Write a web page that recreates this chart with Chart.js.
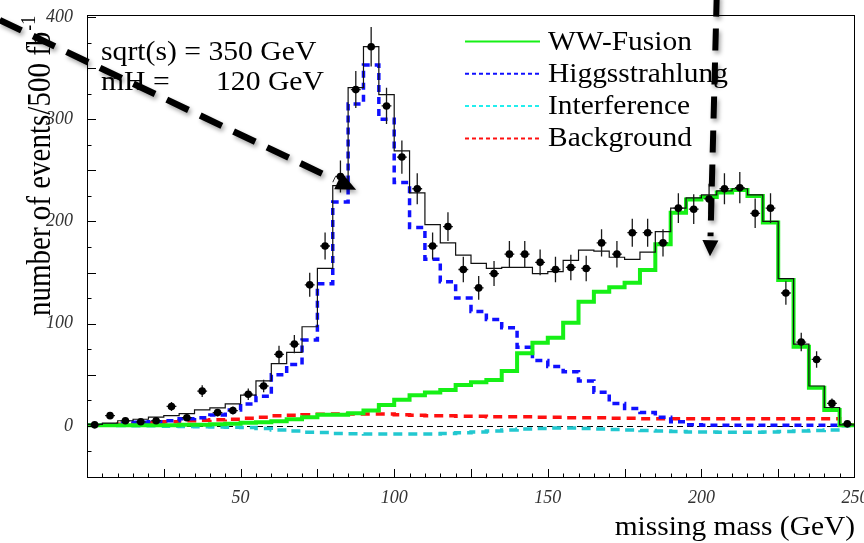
<!DOCTYPE html>
<html>
<head>
<meta charset="utf-8">
<script src="https://cdn.jsdelivr.net/npm/chart.js@4.4.1/dist/chart.umd.min.js"></script>
<style>
  html, body { margin: 0; padding: 0; background: #fff; }
  #wrap { width: 864px; height: 543px; }
</style>
</head>
<body>
<div id="wrap"><canvas id="chart" width="864" height="543"></canvas></div>
<script>
// 5 GeV bins of missing mass
const binWidth = 5;
const binCenters = [
  2.5, 7.5, 12.5, 17.5, 22.5, 27.5, 32.5, 37.5, 42.5, 47.5,
  52.5, 57.5, 62.5, 67.5, 72.5, 77.5, 82.5, 87.5, 92.5, 97.5,
  102.5, 107.5, 112.5, 117.5, 122.5, 127.5, 132.5, 137.5, 142.5, 147.5,
  152.5, 157.5, 162.5, 167.5, 172.5, 177.5, 182.5, 187.5, 192.5, 197.5,
  202.5, 207.5, 212.5, 217.5, 222.5, 227.5, 232.5, 237.5, 242.5, 247.5
];

// simulated data points and their errors
const observed = [
  1, 10, 5, 4, 5, 19, 8, 34, 13, 15,
  31, 39, 70, 80, 138, 176, 244, 329, 371, 313,
  263, 232, 176, 195, 153, 135, 149, 168, 168, 160,
  153, 155, 154, 179, 168, 189, 189, 179, 213, 212,
  222, 232, 233, 208, 213, 130, 82, 65, 22, 2
];
const observedErr = [
  1, 3.2, 2.2, 2, 2.2, 4.4, 2.8, 5.8, 3.6, 3.9,
  5.6, 6.2, 8.4, 8.9, 11.7, 13.3, 15.6, 18.1, 19.3, 17.7,
  16.2, 15.2, 13.3, 14, 12.4, 11.6, 12.2, 13, 13, 12.6,
  12.4, 12.4, 12.4, 13.4, 13, 13.7, 13.7, 13.4, 14.6, 14.6,
  14.9, 15.2, 15.3, 14.4, 14.6, 11.4, 9.1, 8.1, 4.7, 1.4
];

// expectation: sum and components
const totalMC = [
  1.5, 2.6, 5, 6.5, 8.5, 10, 12, 15.6, 17.6, 21.5,
  30, 44, 61, 72, 97, 154, 235, 331, 371, 324,
  269, 228, 197, 179, 167, 159, 154, 155, 155, 149,
  151, 162, 172, 171, 165, 163, 170, 190, 213, 223,
  226, 230, 232, 226, 200, 144, 80, 39, 18, 1
];
const wwFusion = [
  0.5, 0.5, 0.5, 0.5, 0.5, 0.5, 1, 1, 1.5, 2,
  3, 3.5, 4.5, 6.5, 8.5, 11, 11, 12.4, 15, 20.5,
  25.5, 30, 32.6, 35, 40, 42.7, 45, 53.8, 71, 81.4,
  86.3, 101, 121.5, 131.3, 135.6, 140, 152.5, 177.6, 208.5, 221.6,
  224, 228.4, 230.7, 225, 199, 142.7, 77.5, 37.4, 15.6, 0.5
];
const higgsstrahlung = [
  0.5, 1, 2.6, 3.6, 4, 5, 7, 8, 10.7, 15.6,
  21.5, 29, 50, 60, 84, 139, 219, 315, 353, 300,
  238, 194, 163, 141, 125, 112, 104, 96, 77, 64,
  58, 53, 44, 33, 22, 17, 13, 8.5, 4, 1,
  0.5, 0.5, 0.5, 0.5, 0.5, 0.5, 0.5, 0.5, 0.5, 0.5
];
const interference = [
  0.5, 0.5, 0.3, 0, 0, -0.3, -0.5, -0.8, -1, -1.3,
  -1.6, -2.6, -4, -5, -6.2, -6.5, -7.5, -7.8, -8, -8,
  -8, -8, -8, -7.5, -6.8, -6, -5, -4, -3, -2.5,
  -2, -2, -2.5, -3, -3.5, -4, -4.5, -5, -5.5, -6,
  -6, -6.2, -6.2, -6.2, -6, -5.5, -5, -4.5, -4, 0
];
const background = [
  0.5, 1, 1.5, 2, 3, 4, 5, 5.5, 6, 6.5,
  7.5, 8.5, 9.8, 10.5, 11, 11.4, 11.5, 11.5, 11.5, 11.5,
  11, 10.5, 10, 10, 9.5, 9.5, 9, 9, 9, 8.5,
  8.5, 8, 8, 8, 7.5, 7.5, 7, 7, 7, 7,
  7, 7, 7, 7, 7, 7, 7, 7, 7, 1
];

const xTickValues = [50, 100, 150, 200, 250];
const yTickValues = [0, 100, 200, 300, 400];
const legendLabels = ['WW-Fusion', 'Higgsstrahlung', 'Interference', 'Background'];

// the two hand-drawn arrows, in data units (GeV, events)
const arrowPeak = [{ x: -28.4, y: 397 }, { x: 87.6, y: 231 }];
const arrowFusion = [{ x: 205, y: 422 }, { x: 202.8, y: 166 }];

const serif = '"Liberation Serif", "Times New Roman", serif';

// histogram outline: left edge of each bin, plus closing right edge
function histPoints(values) {
  const pts = values.map((v, i) => ({ x: binCenters[i] - binWidth / 2, y: v }));
  const last = binCenters.length - 1;
  pts.push({ x: binCenters[last] + binWidth / 2, y: values[last] });
  return pts;
}

function histDataset(label, values, color, width, dash) {
  return {
    label: label,
    data: histPoints(values),
    borderColor: color,
    borderWidth: width,
    borderDash: dash,
    stepped: 'before',
    pointRadius: 0,
    fill: false
  };
}

function putText(ctx, str, x, y, size, align, sx, style) {
  ctx.save();
  ctx.font = (style || '') + ' ' + size + 'px ' + serif;
  ctx.textAlign = align;
  ctx.textBaseline = 'alphabetic';
  ctx.fillStyle = '#000';
  ctx.translate(x, y);
  ctx.scale(sx, 1);
  ctx.fillText(str, 0, 0);
  ctx.restore();
}

function drawArrow(ctx, p0, p1, width, dash, headLen, headHalf) {
  const dx = p1.x - p0.x, dy = p1.y - p0.y;
  const len = Math.hypot(dx, dy);
  const ux = dx / len, uy = dy / len;
  const bx = p1.x - ux * headLen, by = p1.y - uy * headLen;
  ctx.save();
  ctx.shadowColor = 'rgba(0,0,0,0.35)';
  ctx.shadowBlur = 4;
  ctx.shadowOffsetX = 2;
  ctx.shadowOffsetY = 3;
  ctx.strokeStyle = '#000';
  ctx.lineWidth = width;
  ctx.setLineDash(dash);
  ctx.beginPath();
  ctx.moveTo(p0.x, p0.y);
  ctx.lineTo(bx - ux * 4, by - uy * 4);
  ctx.stroke();
  ctx.setLineDash([]);
  ctx.fillStyle = '#000';
  ctx.beginPath();
  ctx.moveTo(p1.x, p1.y);
  ctx.lineTo(bx - uy * headHalf, by + ux * headHalf);
  ctx.lineTo(bx + uy * headHalf, by - ux * headHalf);
  ctx.closePath();
  ctx.fill();
  ctx.restore();
}

const decor = {
  id: 'decor',
  beforeDatasetsDraw(chart) {
    // dashed zero line
    const { ctx, chartArea: a, scales: { y } } = chart;
    const y0 = Math.round(y.getPixelForValue(0)) + 0.5;
    ctx.save();
    ctx.strokeStyle = '#000';
    ctx.lineWidth = 1;
    ctx.setLineDash([6, 4]);
    ctx.beginPath();
    ctx.moveTo(a.left, y0);
    ctx.lineTo(a.right, y0);
    ctx.stroke();
    ctx.restore();
  },
  afterDatasetDraw(chart, args) {
    // error bars go above the MC sum but under the markers
    if (args.index !== 1) return;
    const { ctx, scales: { x, y } } = chart;
    ctx.save();
    ctx.strokeStyle = '#1a1a1a';
    ctx.lineWidth = 1.3;
    observed.forEach((v, i) => {
      const px = x.getPixelForValue(binCenters[i]);
      const py = y.getPixelForValue(v);
      ctx.beginPath();
      ctx.moveTo(px, y.getPixelForValue(v + observedErr[i]));
      ctx.lineTo(px, y.getPixelForValue(v - observedErr[i]));
      ctx.moveTo(x.getPixelForValue(binCenters[i] - 1.6), py);
      ctx.lineTo(x.getPixelForValue(binCenters[i] + 1.6), py);
      ctx.stroke();
    });
    ctx.restore();
  },
  afterDraw(chart) {
    const { ctx, chartArea: a, scales: { x, y } } = chart;
    ctx.save();
    // frame
    ctx.strokeStyle = '#000';
    ctx.lineWidth = 1;
    ctx.strokeRect(a.left + 0.5, a.top + 0.5, a.right - a.left - 1, a.bottom - a.top - 1);
    // inward tick marks
    ctx.beginPath();
    for (let v = Math.ceil(y.min / 25) * 25; v <= y.max; v += 25) {
      const py = Math.round(y.getPixelForValue(v)) + 0.5;
      ctx.moveTo(a.left, py);
      ctx.lineTo(a.left + (v % 50 === 0 ? 9 : 4.5), py);
    }
    for (let v = 5; v < x.max; v += 5) {
      const px = Math.round(x.getPixelForValue(v)) + 0.5;
      ctx.moveTo(px, a.bottom);
      ctx.lineTo(px, a.bottom - (v % 25 === 0 ? 9 : 4.5));
    }
    ctx.stroke();
    ctx.restore();

    // axis titles
    putText(ctx, 'missing mass (GeV)', a.right, 535, 27, 'right', 1.09);
    ctx.save();
    ctx.translate(50, 316);
    ctx.rotate(-Math.PI / 2);
    ctx.scale(1, 1.15);
    ctx.font = '29px ' + serif;
    ctx.fillStyle = '#000';
    ctx.textBaseline = 'alphabetic';
    const main = 'number of events/500 fb';
    ctx.fillText(main, 0, 0);
    const w = ctx.measureText(main).width;
    ctx.font = '18px ' + serif;
    ctx.fillText('-1', w + 1, -13);
    ctx.restore();

    // run conditions
    putText(ctx, 'sqrt(s) = 350 GeV', 101, 60, 28, 'left', 1.06);
    putText(ctx, 'mH =', 101, 90, 28, 'left', 1.06);
    putText(ctx, '120 GeV', 216, 90, 28, 'left', 1.06);

    // legend
    legendLabels.forEach((label, k) => {
      const ds = chart.data.datasets.find(d => d.label === label);
      const ly = 41.5 + k * 32.3;
      ctx.save();
      ctx.strokeStyle = ds.legendColor || ds.borderColor;
      ctx.lineWidth = 2;
      ctx.setLineDash(ds.borderDash.length ? [4, 3] : []);
      ctx.beginPath();
      ctx.moveTo(465, ly);
      ctx.lineTo(540, ly);
      ctx.stroke();
      ctx.restore();
      putText(ctx, label, 548, ly + 8, 27, 'left', 1.09);
    });

    // arrows
    const px = p => ({ x: x.getPixelForValue(p.x), y: y.getPixelForValue(p.y) });
    drawArrow(ctx, px(arrowPeak[0]), px(arrowPeak[1]), 6.5, [24, 13], 20, 9);
    drawArrow(ctx, px(arrowFusion[0]), px(arrowFusion[1]), 6, [22, 12], 16, 8);
  }
};

const tickFont = { family: serif, size: 18, style: 'italic' };

new Chart(document.getElementById('chart'), {
  type: 'line',
  data: {
    datasets: [
      {
        label: 'data',
        data: observed.map((v, i) => ({ x: binCenters[i], y: v })),
        showLine: false,
        pointRadius: 3.8,
        pointBackgroundColor: '#000',
        pointBorderColor: '#000',
        pointBorderWidth: 0
      },
      histDataset('total', totalMC, '#111', 1.2, []),
      histDataset('WW-Fusion', wwFusion, '#16f016', 4, []),
      histDataset('Higgsstrahlung', higgsstrahlung, '#1010ff', 3.5, [7, 5]),
      Object.assign(histDataset('Interference', interference, '#22c8d0', 3.5, [9, 6]), { legendColor: '#22eeee' }),
      histDataset('Background', background, '#ff1010', 3.5, [9, 6])
    ]
  },
  options: {
    responsive: false,
    animation: false,
    events: [],
    layout: { padding: { left: 0, right: 9, top: 15, bottom: 0 } },
    plugins: { legend: { display: false }, tooltip: { enabled: false } },
    scales: {
      x: {
        type: 'linear',
        min: 0,
        max: 250,
        grid: { display: false },
        border: { display: false },
        ticks: { font: tickFont, color: '#333', padding: 1, maxRotation: 0, autoSkip: false },
        afterBuildTicks: s => { s.ticks = xTickValues.map(v => ({ value: v })); },
        afterFit: s => { s.height = 65; s.paddingLeft = 0; s.paddingRight = 0; }
      },
      y: {
        type: 'linear',
        min: -51,
        max: 402,
        grid: { display: false },
        border: { display: false },
        ticks: { font: tickFont, color: '#333', padding: 6 },
        afterBuildTicks: s => { s.ticks = yTickValues.map(v => ({ value: v })); },
        afterFit: s => { s.width = 87; s.paddingTop = 0; s.paddingBottom = 0; }
      }
    }
  },
  plugins: [decor]
});
</script>
</body>
</html>
